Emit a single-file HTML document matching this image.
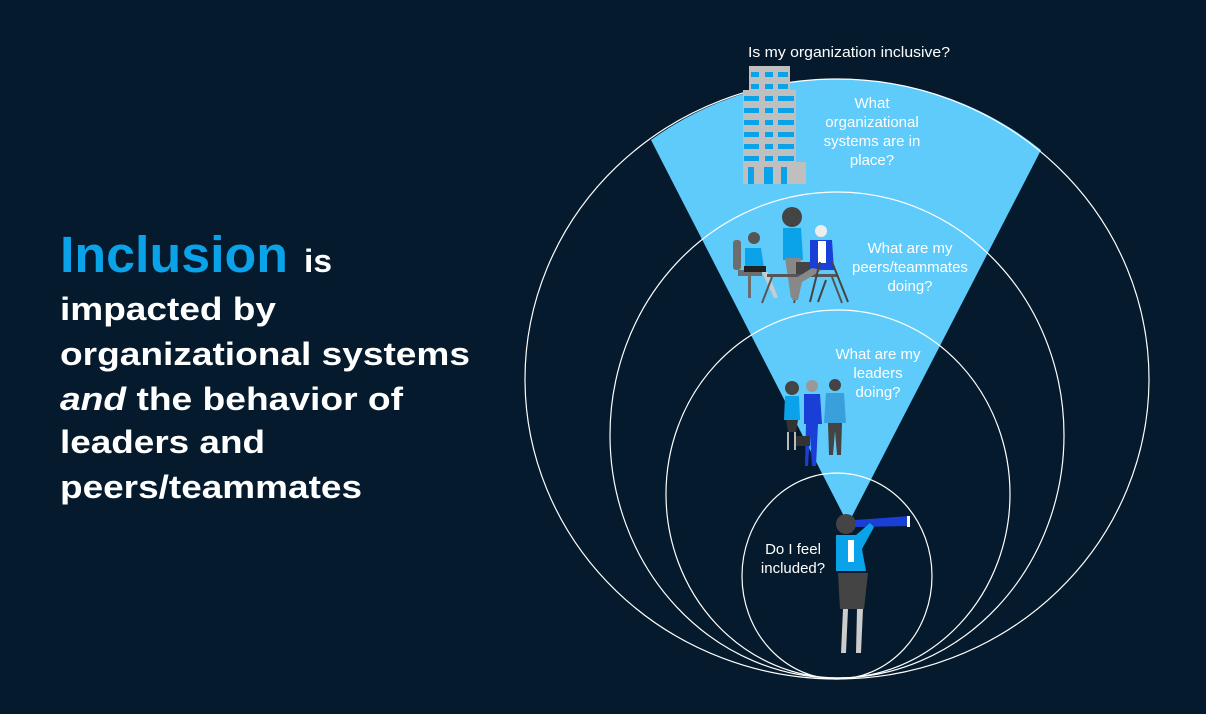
<!DOCTYPE html>
<html><head><meta charset="utf-8"><style>
html,body{margin:0;padding:0;background:#051a2c;}
svg{display:block;}
</style></head><body>
<svg width="1206" height="714" viewBox="0 0 1206 714" xmlns="http://www.w3.org/2000/svg">
<rect width="1206" height="714" fill="#051a2c"/>
<g font-family="Liberation Sans, sans-serif" font-weight="bold" fill="#fff">
<text x="60" y="272" font-size="51" fill="#0aa3ea" textLength="228" lengthAdjust="spacingAndGlyphs">Inclusion</text>
<text x="304" y="272" font-size="32" textLength="28" lengthAdjust="spacingAndGlyphs">is</text>
<text x="60" y="320" font-size="32" textLength="216" lengthAdjust="spacingAndGlyphs">impacted by</text>
<text x="60" y="365" font-size="32" textLength="410" lengthAdjust="spacingAndGlyphs">organizational systems</text>
<text x="60" y="410" font-size="32" textLength="343" lengthAdjust="spacingAndGlyphs"><tspan font-style="italic">and</tspan> the behavior of</text>
<text x="60" y="453" font-size="32" textLength="205" lengthAdjust="spacingAndGlyphs">leaders and</text>
<text x="60" y="498" font-size="32" textLength="302" lengthAdjust="spacingAndGlyphs">peers/teammates</text>
</g>
<path d="M848,524 L651,140 A312,300 0 0 1 1041,150 Z" fill="#5ecbfb"/>
<g fill="none" stroke="#fff" stroke-width="1.2">
<ellipse cx="837" cy="379" rx="312" ry="300"/>
<ellipse cx="837" cy="435" rx="227" ry="243"/>
<ellipse cx="838" cy="494" rx="172" ry="184"/>
<ellipse cx="837" cy="576" rx="95" ry="103"/>
</g>
<g>
<rect x="749" y="66" width="41" height="118" fill="#bfbfbf"/>
<rect x="743" y="90" width="53" height="94" fill="#bfbfbf"/>
<rect x="796" y="162" width="10" height="22" fill="#bfbfbf"/>
<g fill="#0aa3ea">
<rect x="751" y="72" width="8" height="5"/><rect x="765" y="72" width="8" height="5"/><rect x="778" y="72" width="10" height="5"/>
<rect x="751" y="84" width="8" height="5"/><rect x="765" y="84" width="8" height="5"/><rect x="778" y="84" width="10" height="5"/>
<rect x="744" y="96" width="15" height="5"/><rect x="765" y="96" width="8" height="5"/><rect x="778" y="96" width="16" height="5"/>
<rect x="744" y="108" width="15" height="5"/><rect x="765" y="108" width="8" height="5"/><rect x="778" y="108" width="16" height="5"/>
<rect x="744" y="120" width="15" height="5"/><rect x="765" y="120" width="8" height="5"/><rect x="778" y="120" width="16" height="5"/>
<rect x="744" y="132" width="15" height="5"/><rect x="765" y="132" width="8" height="5"/><rect x="778" y="132" width="16" height="5"/>
<rect x="744" y="144" width="15" height="5"/><rect x="765" y="144" width="8" height="5"/><rect x="778" y="144" width="16" height="5"/>
<rect x="744" y="156" width="15" height="5"/><rect x="765" y="156" width="8" height="5"/><rect x="778" y="156" width="16" height="5"/>
<rect x="748" y="167" width="6" height="17"/><rect x="764" y="167" width="9" height="17"/><rect x="781" y="167" width="6" height="17"/>
</g>
</g>
<g>
<rect x="733" y="240" width="8" height="30" fill="#6d6d6d" rx="3"/>
<rect x="738" y="270" width="24" height="6" fill="#6d6d6d"/>
<rect x="748" y="276" width="3" height="22" fill="#6d6d6d"/>
<circle cx="754" cy="238" r="6" fill="#555"/>
<path d="M745,248 h16 l3,20 h-19 z" fill="#0aa3ea"/>
<rect x="744" y="266" width="22" height="6" fill="#222"/>
<path d="M762,272 l12,26 h4 l-10,-26z" fill="#ccc"/>
<circle cx="792" cy="217" r="10" fill="#444"/>
<path d="M783,228 h18 l2,32 h-20 z" fill="#0aa3ea"/>
<path d="M785,258 h16 l-4,40 h-6z" fill="#888"/>
<rect x="767" y="274" width="70" height="3" fill="#555"/>
<path d="M772,277 l-10,26 M832,277 l10,26 M800,277 l-6,26" stroke="#555" stroke-width="2"/>
<rect x="796" y="262" width="20" height="12" fill="#444"/>
<circle cx="821" cy="231" r="6" fill="#eee"/>
<path d="M810,240 h22 l2,30 h-24 z" fill="#1a3fd6"/>
<rect x="818" y="241" width="8" height="22" fill="#fff"/>
<path d="M812,268 l-16,10 l-4,22 h6 l4,-18 l20,-12z" fill="#888"/>
<path d="M820,262 l-10,40 M832,262 l16,40 M826,280 l-8,22" stroke="#444" stroke-width="2"/>
</g>
<g>
<circle cx="792" cy="388" r="7" fill="#444"/>
<path d="M785,396 h14 l1,24 h-16z" fill="#0aa3ea"/>
<path d="M786,420 h12 l-2,12 h-8z" fill="#333"/>
<path d="M788,432 v18 M795,432 v18" stroke="#bbb" stroke-width="2"/>
<circle cx="812" cy="386" r="6" fill="#999"/>
<path d="M804,394 h16 l2,30 h-18z" fill="#1a3fd6"/>
<path d="M806,424 h12 l-2,42 h-4 l-2,-30 l-2,30 h-3z" fill="#1a3fd6"/>
<rect x="796" y="436" width="14" height="10" fill="#333"/>
<circle cx="835" cy="385" r="6" fill="#444"/>
<path d="M826,393 h18 l2,30 h-22z" fill="#3aa0dc"/>
<path d="M828,423 h14 l-1,32 h-4 l-2,-24 l-2,24 h-4z" fill="#444"/>
</g>
<g>
<circle cx="846" cy="524" r="10" fill="#444"/>
<path d="M855,520 L910,516 v10 L855,527 z" fill="#1a3fd6"/>
<rect x="907" y="516" width="3" height="11" fill="#fff"/>
<path d="M836,535 h20 l14,-12 l4,4 l-12,22 l4,22 h-30z" fill="#0aa3ea"/>
<rect x="848" y="540" width="6" height="22" fill="#fff"/>
<path d="M838,573 h30 l-4,36 h-24z" fill="#444"/>
<path d="M843,609 l-2,44 h5 l2,-44z M857,609 l-1,44 h5 l2,-44z" fill="#ccc"/>
</g>
<g font-family="Liberation Sans, sans-serif" font-size="15" fill="#fff" text-anchor="middle">
<text x="849" y="57" textLength="202" lengthAdjust="spacingAndGlyphs">Is my organization inclusive?</text>
<text x="872" y="108">What</text>
<text x="872" y="127">organizational</text>
<text x="872" y="146">systems are in</text>
<text x="872" y="165">place?</text>
<text x="910" y="253">What are my</text>
<text x="910" y="272">peers/teammates</text>
<text x="910" y="291">doing?</text>
<text x="878" y="359">What are my</text>
<text x="878" y="378">leaders</text>
<text x="878" y="397">doing?</text>
<text x="793" y="554">Do I feel</text>
<text x="793" y="573">included?</text>
</g>
</svg>
</body></html>
